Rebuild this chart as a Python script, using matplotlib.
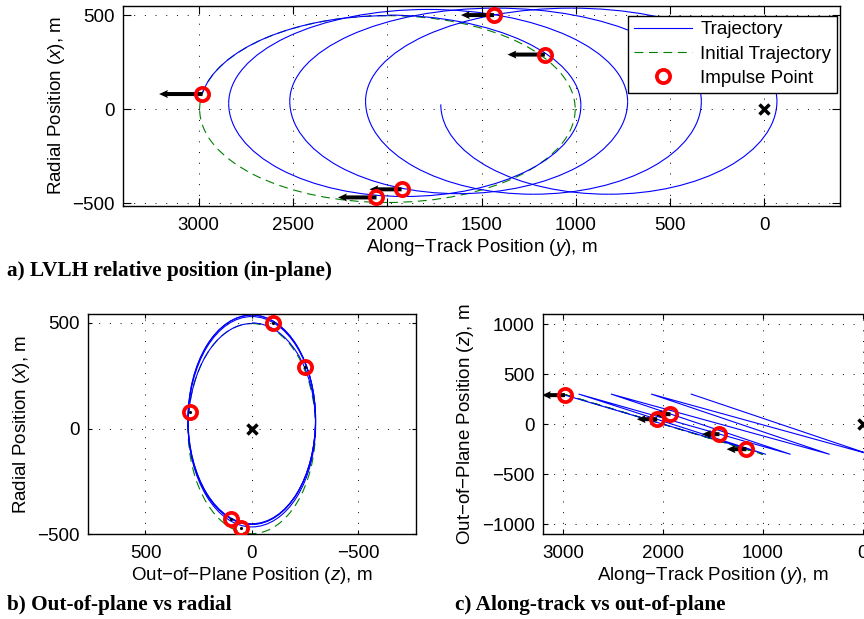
import numpy as np
import matplotlib
matplotlib.use("Agg")
import matplotlib.pyplot as plt
from matplotlib.patches import Arc
from matplotlib.lines import Line2D

plt.rcParams['font.family'] = ['Liberation Sans', 'DejaVu Sans']
plt.rcParams['mathtext.fontset'] = 'custom'
plt.rcParams['mathtext.rm'] = 'Liberation Sans'
plt.rcParams['mathtext.it'] = 'Liberation Sans:italic'
plt.rcParams['font.size'] = 13.5

# trajectory as quarter-orbit extreme points, metres
# y = along-track, x = radial, z = out-of-plane
traj_y = [1999, 973, 1907, 2841, 1783, 725, 1621, 2517, 1425, 334, 1225, 2115, 1024, -67, 825, 1716]
traj_x = [500, 20, -465, 30, 530, 40, -450, 42, 537, 42, -453, 42, 537, 42, -453, 25]
traj_z = [0, -300, 0, 300, 0, -300, 0, 300, 0, -300, 0, 300, 0, -300, 0, 300]
start_y, start_x, start_z = 2980, 80, 290

# initial (closed) trajectory extremes
init_y = [2995, 1999, 1003, 1999, 2995]
init_x = [0, 497, 0, -497, 0]
init_z = [300, 0, -300, 0, 300]

# impulse points and along-track delta-v arrows (drawn length, m)
imp_y = [2980, 1164, 2057, 1434, 1924]
imp_x = [80, 290, -470, 500, -427]
imp_z = [290, -250, 50, -100, 100]
dv_y = [230, 198, 204, 175, 170]

BLUE = (0, 0, 1)
GREEN = (0, 0.5, 0)
LW = 0.8
DASH = (0, (8, 5))


def quarter(ax, h0, v0, side0, h1, v1, **kw):
    # elliptical quarter between a side extreme and a top/bottom extreme
    if side0:
        hs, vs, ht, vt = h0, v0, h1, v1
    else:
        hs, vs, ht, vt = h1, v1, h0, v0
    a_s = 0 if hs > ht else 180
    a_t = 90 if vt > vs else 270
    t1, t2 = {(0, 90): (0, 90), (180, 90): (90, 180),
              (180, 270): (180, 270), (0, 270): (270, 360)}[(a_s, a_t)]
    ax.add_patch(Arc((ht, vs), 2 * abs(hs - ht), 2 * abs(vt - vs),
                     theta1=t1, theta2=t2, **kw))


def orbit(ax, h, v, z, **kw):
    for i in range(len(h) - 1):
        quarter(ax, h[i], v[i], z[i] != 0, h[i + 1], v[i + 1], **kw)


def style(ax, tl):
    ax.grid(True, color='k', linestyle=(0, (1, 10)), linewidth=0.7)
    ax.tick_params(direction='in', top=True, right=True, length=tl,
                   width=0.8, pad=6)
    ax.tick_params(axis='x', pad=8)
    for s in ax.spines.values():
        s.set_linewidth(1.0)


fig = plt.figure(figsize=(8.64, 6.19), dpi=100)

# ---- a) in-plane
ax1 = fig.add_axes([0.1427, 0.6677, 0.8292, 0.3231])
orbit(ax1, init_y, init_x, init_z, color=GREEN, lw=LW, linestyle=DASH)
cy, cx = init_y[1], init_x[0]
th0 = np.degrees(np.arctan2(start_x - cx, start_y - cy))
ax1.add_patch(Arc((cy, cx), 2 * (init_y[0] - cy), 2 * init_x[1],
                  theta1=th0, theta2=90, color=BLUE, lw=LW))
orbit(ax1, traj_y, traj_x, traj_z, color=BLUE, lw=LW)
ax1.quiver(imp_y, imp_x, dv_y, np.zeros(len(dv_y)), angles='xy',
           scale_units='xy', scale=1, units='dots', width=4,
           headwidth=2.0, headlength=2.2, headaxislength=2.0, color='k', zorder=4)
ax1.plot(imp_y, imp_x, 'o', ls='none', mfc='none', mec='r', ms=9.5, mew=2.7, zorder=5)
ax1.plot(0, 0, 'kx', ms=7, mew=2.5, zorder=5)
ax1.set_xlim(3400, -400)
ax1.set_ylim(-514, 550)
ax1.set_xticks([3000, 2500, 2000, 1500, 1000, 500, 0])
ax1.set_yticks([-500, 0, 500])
ax1.set_xlabel(r'Along$-$Track Position ($y$), m', labelpad=2)
ax1.set_ylabel(r'Radial Position ($x$), m', labelpad=4)
style(ax1, 6)
handles = [Line2D([], [], color=BLUE, lw=LW),
           Line2D([], [], color=GREEN, lw=LW, linestyle=DASH),
           Line2D([], [], ls='none', marker='o', mfc='none', mec='r', ms=9.5, mew=2.7)]
leg = ax1.legend(handles, ['Trajectory', 'Initial Trajectory', 'Impulse Point'],
                 loc='upper right', bbox_to_anchor=(0.9962, 0.95), borderaxespad=0,
                 fancybox=False, framealpha=1, edgecolor='k', handlelength=3.1,
                 handletextpad=0.45, labelspacing=0.38, borderpad=0.3)
leg.get_frame().set_linewidth(1.0)

# ---- b) out-of-plane vs radial
ax2 = fig.add_axes([0.1022, 0.1368, 0.3789, 0.3559])
orbit(ax2, init_z, init_x, init_z, color=GREEN, lw=LW, linestyle=DASH)
th0 = np.degrees(np.arctan2(start_x, start_z))
ax2.add_patch(Arc((0, 0), 2 * init_z[0], 2 * init_x[1], theta1=th0, theta2=90,
                  color=BLUE, lw=LW))
orbit(ax2, traj_z, traj_x, traj_z, color=BLUE, lw=LW)
ax2.plot(imp_z, imp_x, 'k.', ms=2.5, zorder=4)
ax2.plot(imp_z, imp_x, 'o', ls='none', mfc='none', mec='r', ms=9.5, mew=2.7, zorder=5)
ax2.plot(0, 0, 'kx', ms=7, mew=2.5, zorder=5)
ax2.set_xlim(769, -771)
ax2.set_ylim(-500, 542)
ax2.set_xticks([500, 0, -500])
ax2.set_yticks([-500, 0, 500])
ax2.set_xlabel(r'Out$-$of$-$Plane Position ($z$), m', labelpad=2)
ax2.set_ylabel(r'Radial Position ($x$), m', labelpad=4)
style(ax2, 3)

# ---- c) along-track vs out-of-plane
ax3 = fig.add_axes([0.6285, 0.1368, 0.3931, 0.3559])
ax3.plot(init_y, init_z, color=GREEN, lw=LW, linestyle=DASH)
ax3.plot([start_y] + traj_y, [start_z] + traj_z, color=BLUE, lw=LW)
ax3.quiver(imp_y, imp_z, dv_y, np.zeros(len(dv_y)), angles='xy',
           scale_units='xy', scale=1, units='dots', width=4,
           headwidth=2.0, headlength=2.2, headaxislength=2.0, color='k', zorder=4)
ax3.plot(imp_y, imp_z, 'o', ls='none', mfc='none', mec='r', ms=9.5, mew=2.7, zorder=5)
ax3.plot(0, 0, 'kx', ms=7, mew=2.5, zorder=5)
ax3.set_xlim(3200, -200)
ax3.set_ylim(-1100, 1100)
ax3.set_xticks([3000, 2000, 1000, 0])
ax3.set_yticks([-1000, -500, 0, 500, 1000])
ax3.set_xlabel(r'Along$-$Track Position ($y$), m', labelpad=2)
ax3.set_ylabel(r'Out$-$of$-$Plane Position ($z$), m', labelpad=4)
style(ax3, 3.5)

cap = dict(fontsize=15.3, fontweight='bold', family='Liberation Serif', va='center')
fig.text(7 / 864, 1 - 271 / 619, 'a) LVLH relative position (in-plane)', **cap)
fig.text(7 / 864, 1 - 605 / 619, 'b) Out-of-plane vs radial', **cap)
fig.text(455 / 864, 1 - 605 / 619, 'c) Along-track vs out-of-plane', **cap)

fig.savefig('out.png', dpi=100)
